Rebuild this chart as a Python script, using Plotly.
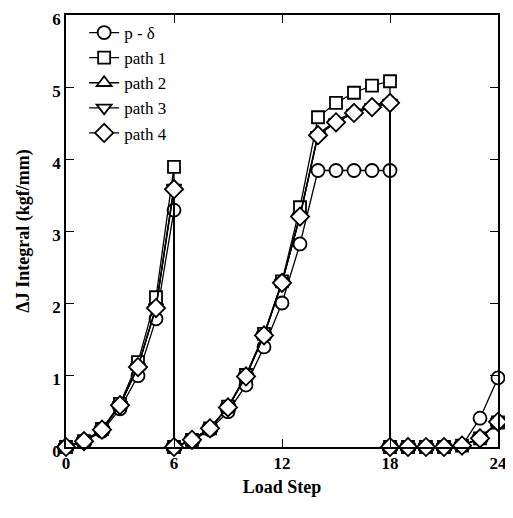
import plotly.graph_objects as go

load_step = [0, 1, 2, 3, 4, 5, 6, 6, 7, 8, 9, 10, 11, 12, 13, 14, 15, 16, 17, 18, 18, 19, 20, 21, 22, 23, 24]

p_delta = [0, 0.07, 0.22, 0.53, 0.99, 1.78, 3.29, 0, 0.08, 0.24, 0.49, 0.86, 1.39, 2.00, 2.82, 3.84, 3.84, 3.84, 3.84, 3.84, 0, 0, 0, 0, 0.02, 0.40, 0.96]
path1 = [0, 0.08, 0.25, 0.60, 1.18, 2.08, 3.89, 0, 0.10, 0.26, 0.56, 1.00, 1.57, 2.30, 3.33, 4.58, 4.78, 4.92, 5.02, 5.08, 0, 0, 0, 0, 0.02, 0.12, 0.34]
path2 = [0, 0.08, 0.24, 0.59, 1.12, 1.95, 3.62, 0, 0.10, 0.26, 0.55, 0.99, 1.56, 2.29, 3.22, 4.35, 4.53, 4.66, 4.74, 4.80, 0, 0, 0, 0, 0.02, 0.12, 0.34]
path3 = [0, 0.08, 0.24, 0.58, 1.11, 1.94, 3.60, 0, 0.10, 0.26, 0.55, 0.98, 1.55, 2.28, 3.20, 4.33, 4.51, 4.64, 4.72, 4.78, 0, 0, 0, 0, 0.02, 0.12, 0.35]
path4 = [0, 0.08, 0.24, 0.58, 1.11, 1.93, 3.58, 0, 0.10, 0.26, 0.55, 0.98, 1.55, 2.28, 3.20, 4.33, 4.51, 4.64, 4.72, 4.78, 0, 0, 0, 0, 0.02, 0.12, 0.35]

series_names = ["p - \u03b4", "path 1", "path 2", "path 3", "path 4"]
series_values = [p_delta, path1, path2, path3, path4]
symbols = ["circle", "square", "triangle-up", "triangle-down", "diamond"]
sizes = [13, 12, 13, 13, 14]

x_ticks = [0, 6, 12, 18, 24]
y_ticks = [0, 1, 2, 3, 4, 5, 6]

fig = go.Figure()
for name, vals, sym, sz in zip(series_names, series_values, symbols, sizes):
    fig.add_trace(go.Scatter(
        x=load_step, y=vals, name=name, mode="lines+markers",
        line=dict(color="black", width=1.3),
        marker=dict(symbol=sym, size=sz, color="white", line=dict(width=1.8, color="black")),
        cliponaxis=False,
    ))

fig.update_layout(
    width=505, height=510,
    margin=dict(l=58, r=15, t=7, b=71, autoexpand=False),
    paper_bgcolor="white", plot_bgcolor="white",
    font=dict(family="Liberation Serif", size=17, color="black"),
    showlegend=True,
    legend=dict(x=0.042, y=1.0, xanchor="left", yanchor="top",
                bgcolor="rgba(0,0,0,0)", font=dict(family="Liberation Serif", size=17, color="black"),
                tracegroupgap=0, itemsizing="trace"),
)
axis_common = dict(
    showline=True, linecolor="black", linewidth=1.5, mirror="ticks",
    ticks="inside", ticklen=8, tickwidth=1.3, tickcolor="black",
    showgrid=False, zeroline=False, automargin=False, ticklabeloverflow="allow",
    tickfont=dict(family="Liberation Serif", size=17, color="black", weight="bold"),
)
fig.update_xaxes(range=[0, 24], tickvals=x_ticks, **axis_common,
                 title=dict(text="<b>Load Step</b>", font=dict(family="Liberation Serif", size=18), standoff=8))
fig.update_yaxes(range=[0, 6], tickvals=y_ticks, **axis_common, ticklabelshift=4,
                 title=dict(text="<b>\u0394J Integral (kgf/mm)</b>", font=dict(family="Liberation Serif", size=18), standoff=18))

fig.write_html("out.html")
